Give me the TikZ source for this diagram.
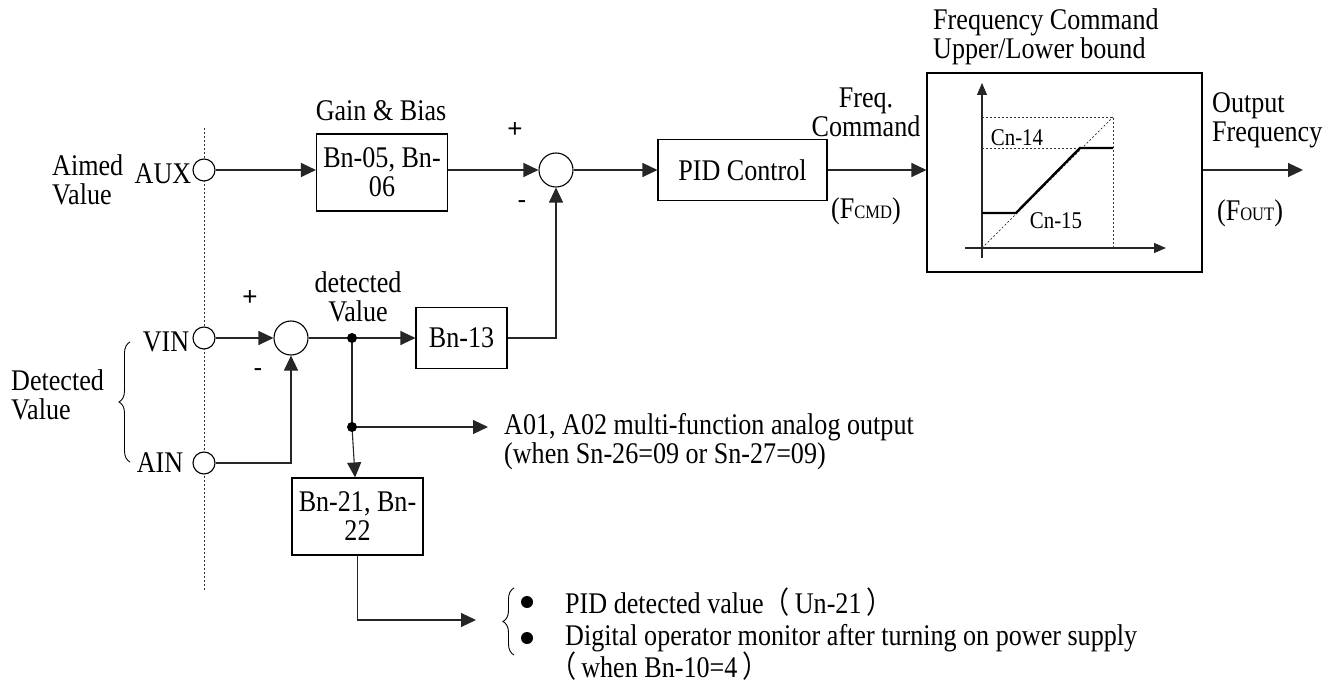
\documentclass[tikz,border=0pt]{standalone}
\usepackage{fontspec}
\setmainfont{Liberation Serif}[FakeStretch=0.87]
\newfontfamily\sansf{Liberation Sans}
\newfontfamily\cjk{Noto Sans CJK SC}[FakeStretch=0.87]
\usetikzlibrary{arrows.meta,decorations.pathreplacing}
\newcommand\fsz{\fontsize{30}{29}\selectfont}
\newcommand\fsm{\fontsize{24}{26}\selectfont}
\newcommand\fsub{\fontsize{19}{20}\selectfont}
\begin{document}
\begin{tikzpicture}[x=1pt,y=-1pt,
  every node/.style={font=\fsz,inner sep=0pt},
  ln/.style={line width=1.1pt,draw=black!85},
  arr/.style={ln,-{Triangle[length=15pt,width=14pt]}},
  term/.style={circle,draw,line width=1.1pt,fill=white,minimum size=22pt},
  sumc/.style={circle,draw,line width=1.1pt,fill=white,minimum size=34pt},
  blk/.style={rectangle,draw,line width=1.1pt,align=center},
  lbl/.style={align=center},
  lbll/.style={align=left,anchor=west},
  sgn/.style={font=\sansf\fontsize{26}{28}\selectfont},
  dot/.style={circle,fill=black,minimum size=10pt,inner sep=0pt},
  dotted line/.style={line width=0.9pt,dash pattern=on 2pt off 2pt,draw=black!80},
  bracestyle/.style={line width=0.9pt,draw=black,decorate,decoration={brace,amplitude=11pt}}
]
\useasboundingbox (0,0) rectangle (1335,684);
\fill[white] (0,0) rectangle (1335,684);

% divider
\draw[dotted line] (204,128) -- (204,590);

% terminals
\node[term] (aux) at (204,170) {};
\node[term] (vin) at (204,338) {};
\node[term] (ain) at (204,463) {};

\node[lbl,align=left,anchor=west] (aimed) at (52,180) {Aimed\\Value};
\node (auxl) at (163,174) {AUX};
\node (vinl) at (166,342) {VIN};
\node (ainl) at (160,463) {AIN};
\node[lbll] (detv) at (11,395) {Detected\\Value};
\draw[bracestyle,decoration={mirror}] (130,342) -- (130,462);

% top path
\node[blk,minimum width=131pt,minimum height=77pt] (gain) at (382,172.5) {Bn-05, Bn-\\06};
\node (gainl) at (381,111) {Gain \& Bias};
\node[sumc] (s1) at (556,170) {};
\node[sgn] (p1) at (515,130) {+};
\node[sgn] (m1) at (522,205) {-};
\node[blk,minimum width=169pt,minimum height=61pt] (pid) at (742.5,170) {PID Control};
\node[lbl] (freq) at (866,112) {Freq.\\Command};
\node (fcmd) at (866,211) {(F{\fsub CMD})};

% limiter box
\node[blk,minimum width=275pt,minimum height=199pt] (lim) at (1064.5,172.5) {};
\node[lbll] (liml) at (933,37) {Frequency Command\\Upper/Lower bound};
\node[lbll] (outl) at (1212,120) {Output\\Frequency};
\node (fout) at (1250,213) {(F{\fsub OUT})};
\coordinate (outend) at (1303,170);

% inner graph
\coordinate (o) at (982,248);
\coordinate (ytop) at (982,83);
\coordinate (ybot) at (982,258);
\coordinate (xl) at (965,248);
\coordinate (xr) at (1166,248);
\draw[ln,-{Triangle[length=12pt,width=10pt]}] (ybot) -- (ytop);
\draw[ln,-{Triangle[length=12pt,width=10pt]}] (xl) -- (xr);
\draw[dotted line,line width=0.7pt] (982,117) -- (1113,117) -- (1113,248);
\draw[dotted line,line width=0.7pt] (982,148) -- (1080,148);
\draw[dotted line,line width=0.7pt] (o) -- (1113,117);
\draw[line width=2.4pt] (982,213) -- (1016,213) -- (1080,148) -- (1113,148);
\node[font=\fsm] (cn14) at (1017,138) {Cn-14};
\node[font=\fsm] (cn15) at (1056,221) {Cn-15};

% lower path
\node[sumc] (s2) at (291,338) {};
\node[sgn] (p2) at (250,298) {+};
\node[sgn] (m2) at (258,373) {-};
\coordinate (j1) at (352,338);
\coordinate (j2) at (352,427);
\node[lbl] (detl) at (358,297) {detected\\Value};
\node[blk,minimum width=91pt,minimum height=61pt] (bn13) at (461.5,338) {Bn-13};
\node[blk,minimum width=131pt,minimum height=77pt] (bn21) at (357.5,516.5) {Bn-21, Bn-\\22};
\coordinate (a01end) at (488,427);
\node[lbll] (a01) at (504,442) {A01, A02 multi-function analog output\\(when Sn-26=09 or Sn-27=09)};

% connectors
\draw[arr] (aux) -- (aux -| gain.west);
\draw[arr] (gain.east |- s1) -- (s1);
\draw[arr] (s1) -- (pid);
\draw[arr] (pid) -- (lim.west |- pid);
\draw[arr] (lim.east |- outend) -- (outend);
\draw[arr] (vin) -- (s2);
\draw[arr] (ain) -| (s2);
\draw[ln] (s2) -- (j1);
\draw[arr] (j1) -- (bn13);
\draw[arr] (bn13.east) -| (s1);
\draw[ln] (j1) -- (j2);
\draw[arr] (j2) -- (a01end);
\draw[arr] (j2) -- (bn21);
\node[dot] at (j1) {};
\node[dot] at (j2) {};

% bottom outputs
\coordinate (bend) at (476,620);
\draw[arr] (bn21.south) |- (bend);
\draw[bracestyle] (514,655) -- (514,588);
\node[dot,minimum size=12pt] (b1) at (527,602) {};
\node[dot,minimum size=12pt] (b2) at (527,638) {};
\node[anchor=west] (t1) at (565,602) {PID detected value{\cjk （}\,Un-21\,{\cjk ）}};
\node[anchor=west] (t2) at (565,638) {Digital operator monitor after turning on power supply};
\node[anchor=west] (t3) at (550,666) {{\cjk （}\,when Bn-10=4\,{\cjk ）}};
\end{tikzpicture}
\end{document}
